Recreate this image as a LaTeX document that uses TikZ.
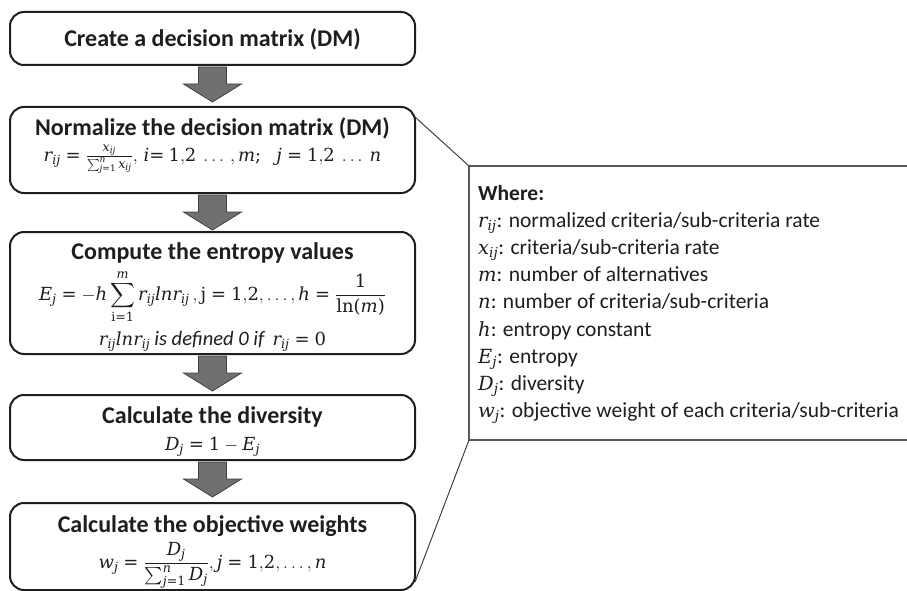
\RequirePackage{fix-cm}
\documentclass[tikz,border=0pt]{standalone}
\usepackage{exscale}
\usepackage[no-math]{fontspec}
\setmainfont{Carlito}
\newfontfamily\dvserif[NFSSFamily=dvser]{DejaVu Serif}
\DeclareSymbolFont{dvit}{TU}{dvser}{m}{it}
\DeclareSymbolFont{operators}{TU}{dvser}{m}{n}
\makeatletter
\count@=`a
\loop \Umathcode\count@=7 \symdvit \count@ \ifnum\count@<`z \advance\count@ 1 \repeat
\count@=`A
\loop \Umathcode\count@=7 \symdvit \count@ \ifnum\count@<`Z \advance\count@ 1 \repeat
\makeatother
\definecolor{ink}{HTML}{1E1E1E}
\tikzset{
  flowbox/.style={draw=ink, line width=2pt, rounded corners=14pt, minimum width=405pt, inner sep=0pt, outer sep=0pt, fill=white},
  head/.style={font=\fontsize{24}{28}\selectfont\bfseries, text=ink, inner sep=0pt, anchor=base},
  formula/.style={font=\fontsize{18}{22}\selectfont, text=ink, inner sep=0pt, anchor=base},
  wtext/.style={font=\fontsize{21.5}{26}\selectfont, text=ink, inner sep=0pt, anchor=base west},
  conn/.style={draw=black!80, line width=0.9pt},
  whbox/.style={draw=black!65, line width=1.1pt, inner sep=0pt, outer sep=0pt, anchor=north west, minimum width=470pt, minimum height=274pt},
  arrowbody/.style={fill=black!56, draw=black!75, line width=0.8pt, line join=miter},
  bigarrow/.pic={\path[arrowbody] (-14,0) -- (14,0) -- (14,17) -- (29,17) -- (0,35) -- (-29,17) -- (-14,17) -- cycle;}
}
\newcommand\wm[1]{{\fontsize{19.5}{24}\selectfont$#1$}}
\newcommand\itx[1]{{\fontsize{20.5}{24}\selectfont\itshape #1}}
\begin{document}
\begin{tikzpicture}[x=1pt,y=-1pt]
\useasboundingbox (0,0) rectangle (907,591);
\clip (0,0) rectangle (907,591);
\fill[white] (0,0) rectangle (907,591);

% flow boxes
\node[flowbox, minimum height=53pt] (b1) at (212.5,38.5) {};
\node[flowbox, minimum height=86pt] (b2) at (212.5,150) {};
\node[flowbox, minimum height=122pt] (b3) at (212.5,293) {};
\node[flowbox, minimum height=65pt] (b4) at (212.5,427.5) {};
\node[flowbox, minimum height=87pt] (b5) at (212.5,546.5) {};

% block arrows
\pic at ([yshift=-2pt]b1.south) {bigarrow};
\pic at ([yshift=-2pt]b2.south) {bigarrow};
\pic at ([yshift=-2pt]b3.south) {bigarrow};
\pic at ([yshift=-2pt]b4.south) {bigarrow};

% texts
\node[head] (t1) at (212.5,47) {Create a decision matrix (DM)};

\node[head] (t2) at (212.5,135.5) {Normalize the decision matrix (DM)};
\node[formula] (f2) at (212.5,161) {$r_{ij}=\frac{x_{ij}}{\sum_{j=1}^{n}x_{ij}},\, i{=}\ 1{,}2\ \ldots\,, m;\ \ \ j=1{,}2\ \ldots\ n$};

\node[head] (t3) at (212.5,259.5) {Compute the entropy values};
\node[formula] (f3) at (212.5,300) {$\displaystyle E_j=-h\sum_{\mathrm{i=1}}^{m} r_{ij}lnr_{ij}\,,\mathrm{j}=1{,}2,\ldots,h=\frac{1}{\ln(m)}$};
\node[formula] (n3) at (212.5,345) {$r_{ij}lnr_{ij}$ \itx{is defined 0 if}\ \ $r_{ij}=0$};

\node[head] (t4) at (212.5,423) {Calculate the diversity};
\node[formula] (f4) at (212.5,450) {$D_j=1-E_j$};

\node[head] (t5) at (212.5,532) {Calculate the objective weights};
\node[formula] (f5) at (212.5,568) {$\displaystyle w_j=\frac{D_j}{\sum_{j=1}^{n}D_j},j=1{,}2,\ldots,n$};

% legend box
\node[whbox] (wb) at (469,166) {};
\node[wtext] (w0) at (478,200) {\bfseries Where:};
\node[wtext] (w1) at (478,227.2) {\wm{r_{ij}}: normalized criteria/sub-criteria rate};
\node[wtext] (w2) at (478,254.4) {\wm{x_{ij}}: criteria/sub-criteria rate};
\node[wtext] (w3) at (478,281.6) {\wm{m}: number of alternatives};
\node[wtext] (w4) at (478,308.8) {\wm{n}: number of criteria/sub-criteria};
\node[wtext] (w5) at (478,336) {\wm{h}: entropy constant};
\node[wtext] (w6) at (478,363.2) {\wm{E_j}: entropy};
\node[wtext] (w7) at (478,390.4) {\wm{D_j}: diversity};
\node[wtext] (w8) at (478,417.6) {\wm{w_j}: objective weight of each criteria/sub-criteria};

% callout lines
\draw[conn] ([yshift=-10pt]b2.north east) -- (wb.north west);
\draw[conn] (wb.south west) -- ([yshift=8pt]b5.south east);
\end{tikzpicture}
\end{document}
